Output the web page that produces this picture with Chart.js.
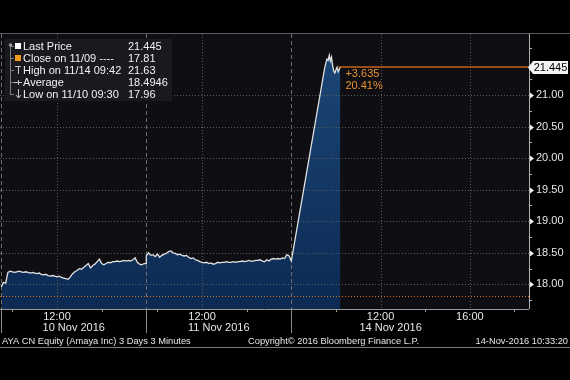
<!DOCTYPE html>
<html><head><meta charset="utf-8">
<script src="https://cdn.jsdelivr.net/npm/chart.js@4/dist/chart.umd.min.js"></script>
<style>html,body{margin:0;padding:0;background:#000;overflow:hidden}#wrap{width:570px;height:380px}</style>
</head><body><div id="wrap"><canvas id="c" width="570" height="380"></canvas></div>
<script>
// ---- data ----
const day1Prices = [17.96,18.03,18.02,18.19,18.21,18.20,18.19,18.20,18.21,18.20,18.19,18.20,18.19,18.18,18.19,18.18,18.17,18.18,18.16,18.15,18.16,18.14,18.13,18.14,18.13,18.12,18.13,18.11,18.10,18.09,18.08,18.12,18.17,18.20,18.22,18.25,18.24,18.27,18.30,18.33,18.26,18.30,18.32,18.36,18.40,18.33,18.31,18.33,18.35,18.34,18.36,18.36,18.37,18.36,18.37,18.38,18.37,18.38,18.37,18.39,18.42,18.35,18.32,18.31,18.33,18.33];
const day2Prices = [18.45,18.50,18.46,18.47,18.44,18.48,18.43,18.46,18.48,18.49,18.52,18.53,18.50,18.49,18.47,18.48,18.46,18.45,18.46,18.43,18.41,18.42,18.39,18.38,18.36,18.35,18.34,18.35,18.33,18.34,18.32,18.33,18.35,18.34,18.35,18.35,18.36,18.35,18.35,18.36,18.35,18.36,18.36,18.37,18.36,18.37,18.38,18.37,18.37,18.38,18.38,18.39,18.37,18.36,18.39,18.37,18.40,18.41,18.40,18.41,18.40,18.42,18.41,18.47,18.45,18.37];
const day3Prices = [21.44,21.51,21.57,21.55,21.63,21.54,21.60,21.47,21.38,21.35,21.40,21.44,21.37,21.41,21.445];
// session start (axis hours) and sampling step (hours) of each day
const sessionStarts = [0, 6.5, 14.5];
const sessionSteps = [0.1, 0.1, 0.05];
const daySeparators = [0, 6.5, 13];
const timeTickValues = [2.5, 9, 17, 21];
const timeTickLabels = ['12:00', '12:00', '12:00', '16:00'];
const minorTimeTicks = [0.5, 4.5, 7, 11, 15, 19, 23];
const dateLabels = ['10 Nov 2016', '11 Nov 2016', '14 Nov 2016'];
const dateLabelCenters = [3.25, 9.75, 17.45];
const priceTicks = [18.0, 18.5, 19.0, 19.5, 20.0, 20.5, 21.0];
const minorPriceTicks = [17.75, 18.25, 18.75, 19.25, 19.75, 20.25, 20.75, 21.25, 21.75];
const lastPrice = 21.445;
const prevClose = 17.81;
const changeLabels = ['+3.635', '20.41%'];
const legendLabels = ['Last Price', 'Close on 11/09 ----', 'High on 11/14 09:42', 'Average', 'Low on 11/10 09:30'];
const legendValues = ['21.445', '17.81', '21.63', '18.4946', '17.96'];
const footerLeft = 'AYA CN Equity (Amaya Inc) 3 Days 3 Minutes';
const footerMid = 'Copyright\u00A9 2016 Bloomberg Finance L.P.';
const footerRight = '14-Nov-2016 10:33:20';

const FONT = '"Liberation Sans", Arial, sans-serif';

const points = [];
[day1Prices, day2Prices, day3Prices].forEach((arr, d) => {
  arr.forEach((v, i) => points.push({x: sessionStarts[d] + i * sessionSteps[d], y: v}));
});

function hline(ctx, x1, x2, y) { ctx.beginPath(); ctx.moveTo(x1, y); ctx.lineTo(x2, y); ctx.stroke(); }
function vline(ctx, x, y1, y2) { ctx.beginPath(); ctx.moveTo(x, y1); ctx.lineTo(x, y2); ctx.stroke(); }

const decor = {
  id: 'decor',
  beforeDraw(chart) {
    const {ctx, chartArea: a} = chart;
    ctx.save();
    ctx.fillStyle = '#000';
    ctx.fillRect(0, 0, chart.width, chart.height);
    ctx.fillStyle = '#0e0e13';
    ctx.fillRect(a.left, a.top, a.right - a.left, a.bottom - a.top);
    ctx.strokeStyle = '#5a5a5a'; ctx.lineWidth = 1;
    hline(ctx, 0, chart.width, Math.round(a.top) - 0.5);
    ctx.restore();
  },
  afterDatasetDraw(chart, args) {
    if (args.index !== 0) return;
    const {ctx, chartArea: a, scales: {x, y}} = chart;
    ctx.save();
    ctx.lineWidth = 1;
    ctx.strokeStyle = '#5a5a5a'; ctx.setLineDash([1, 2]);
    priceTicks.forEach(v => hline(ctx, a.left, a.right, Math.round(y.getPixelForValue(v)) + 0.5));
    timeTickValues.forEach(v => vline(ctx, Math.round(x.getPixelForValue(v)) + 0.5, a.top, a.bottom));
    ctx.strokeStyle = '#6e6e6e'; ctx.setLineDash([4, 3]);
    daySeparators.forEach(v => vline(ctx, Math.round(x.getPixelForValue(v)) + 0.5, a.top, a.bottom));
    ctx.strokeStyle = '#d8701e'; ctx.setLineDash([1, 2]);
    hline(ctx, a.left, a.right, Math.round(y.getPixelForValue(prevClose)) + 0.5);
    ctx.restore();
  },
  afterDatasetsDraw(chart) {
    const {ctx, chartArea: a, scales: {x, y}} = chart;
    ctx.save();
    ctx.lineWidth = 1; ctx.setLineDash([]);
    const last = points[points.length - 1];
    const lx = x.getPixelForValue(last.x);
    const lyRaw = y.getPixelForValue(lastPrice);
    const ly = Math.round(lyRaw) + 0.5;
    // last price line
    ctx.strokeStyle = '#c4621c'; ctx.lineWidth = 1.6;
    hline(ctx, lx - 2, a.right, Math.round(lyRaw));
    ctx.lineWidth = 1;
    // change annotation
    ctx.fillStyle = '#e8922f';
    ctx.font = '11px ' + FONT; ctx.textBaseline = 'middle'; ctx.textAlign = 'left';
    ctx.fillText(changeLabels[0], lx + 5, ly + 6);
    ctx.fillText(changeLabels[1], lx + 5, ly + 18);
    // x axis line
    ctx.strokeStyle = '#9a9a9a';
    hline(ctx, 0, a.right, Math.round(a.bottom) + 0.5);
    minorTimeTicks.forEach(v => vline(ctx, Math.round(x.getPixelForValue(v)) + 0.5, a.bottom, a.bottom + 3));
    ctx.strokeStyle = '#8a8a8a';
    daySeparators.forEach(v => vline(ctx, Math.round(x.getPixelForValue(v)) + 0.5, a.bottom, a.bottom + 24));
    // right axis
    ctx.strokeStyle = '#b0b0b0';
    vline(ctx, Math.round(a.right) + 0.5, a.top, a.bottom);
    minorPriceTicks.forEach(v => hline(ctx, a.right, a.right + 3, Math.round(y.getPixelForValue(v)) + 0.5));
    ctx.fillStyle = '#f0f0f0';
    priceTicks.forEach(v => {
      const py = Math.round(y.getPixelForValue(v)) + 0.5;
      ctx.beginPath(); ctx.moveTo(a.right + 1, py - 3); ctx.lineTo(a.right + 5, py); ctx.lineTo(a.right + 1, py + 3); ctx.closePath(); ctx.fill();
    });
    // last price label box
    ctx.fillStyle = '#f4f4f4';
    ctx.beginPath();
    ctx.moveTo(a.right - 1, ly);
    ctx.lineTo(a.right + 4, ly - 6.5);
    ctx.lineTo(chart.width - 2, ly - 6.5);
    ctx.lineTo(chart.width - 2, ly + 6.5);
    ctx.lineTo(a.right + 4, ly + 6.5);
    ctx.closePath(); ctx.fill();
    ctx.fillStyle = '#000'; ctx.textAlign = 'center';
    ctx.fillText(lastPrice.toFixed(3), (a.right + 4 + chart.width - 2) / 2, ly + 0.5);
    // date labels
    ctx.fillStyle = '#e6e6e6'; ctx.textAlign = 'center';
    dateLabels.forEach((t, i) => ctx.fillText(t, x.getPixelForValue(dateLabelCenters[i]), a.bottom + 19));
    // footer
    ctx.font = '9.3px ' + FONT;
    ctx.textAlign = 'left'; ctx.fillText(footerLeft, 2, 341);
    ctx.fillText(footerMid, 248, 341);
    ctx.textAlign = 'right'; ctx.fillText(footerRight, 568, 341);
    ctx.strokeStyle = '#7a7a7a';
    hline(ctx, 0, chart.width, 347.5);
    // legend box
    ctx.fillStyle = 'rgba(26,26,31,0.95)';
    ctx.fillRect(5, 39, 167, 62);
    ctx.strokeStyle = '#7d7d7d';
    vline(ctx, 10.5, 45, 94);
    const rows = [46, 58, 70, 82, 94];
    rows.forEach(r => hline(ctx, 10, 14, r + 0.5));
    ctx.fillStyle = '#9a9a9a'; ctx.beginPath(); ctx.arc(10.5, 45, 1.8, 0, Math.PI * 2); ctx.fill();
    ctx.fillStyle = '#ffffff'; ctx.fillRect(15, 43, 6, 6);
    ctx.fillStyle = '#f09a1e'; ctx.fillRect(15, 55, 6, 6);
    ctx.strokeStyle = '#c8c8c8';
    hline(ctx, 15, 21, 66.5); vline(ctx, 18.5, 66, 74);
    hline(ctx, 14, 22, 82.5); vline(ctx, 18.5, 80, 85);
    vline(ctx, 18.5, 89, 98);
    ctx.beginPath(); ctx.moveTo(16, 95); ctx.lineTo(18.5, 98); ctx.lineTo(21, 95); ctx.stroke();
    ctx.font = '11px ' + FONT; ctx.fillStyle = '#f2f2f2'; ctx.textAlign = 'left';
    legendLabels.forEach((t, i) => ctx.fillText(t, 23, rows[i] + 0.5));
    legendValues.forEach((t, i) => ctx.fillText(t, 128, rows[i] + 0.5));
    ctx.restore();
  }
};

const ctx = document.getElementById('c').getContext('2d');
function fillGradient(c) {
  const ca = c.chart.chartArea;
  if (!ca) return '#10325c';
  const g = c.chart.ctx.createLinearGradient(0, ca.top, 0, ca.bottom);
  g.addColorStop(0, '#1c4878');
  g.addColorStop(1, '#0c2a52');
  return g;
}
new Chart(ctx, {
  type: 'line',
  data: {
    datasets: [
      {data: points, borderWidth: 0, pointRadius: 0, fill: 'start', backgroundColor: fillGradient, order: 2, tension: 0},
      {data: points, borderColor: '#e2e2e2', borderWidth: 1.3, pointRadius: 0, fill: false, order: 1, tension: 0}
    ]
  },
  options: {
    responsive: false, animation: false, events: [],
    layout: {padding: {top: 34, left: 0, right: 0, bottom: 0}},
    plugins: {legend: {display: false}, tooltip: {enabled: false}},
    scales: {
      x: {
        type: 'linear', min: -0.054, max: 23.65,
        afterBuildTicks: s => { s.ticks = timeTickValues.map(v => ({value: v})); },
        afterFit: s => { s.height = 71; },
        ticks: {callback: (v, i) => timeTickLabels[i], color: '#e6e6e6', font: {family: FONT, size: 11}, padding: 1, maxRotation: 0, minRotation: 0, autoSkip: false},
        grid: {display: false, drawTicks: false},
        border: {display: false}
      },
      y: {
        position: 'right', min: 17.61, max: 21.967,
        afterBuildTicks: s => { s.ticks = priceTicks.map(v => ({value: v})); },
        afterFit: s => { s.width = 41; },
        ticks: {callback: v => Number(v).toFixed(2), color: '#e6e6e6', font: {family: FONT, size: 11}, padding: 7},
        grid: {display: false, drawTicks: false},
        border: {display: false}
      }
    }
  },
  plugins: [decor]
});
</script>
</body></html>
